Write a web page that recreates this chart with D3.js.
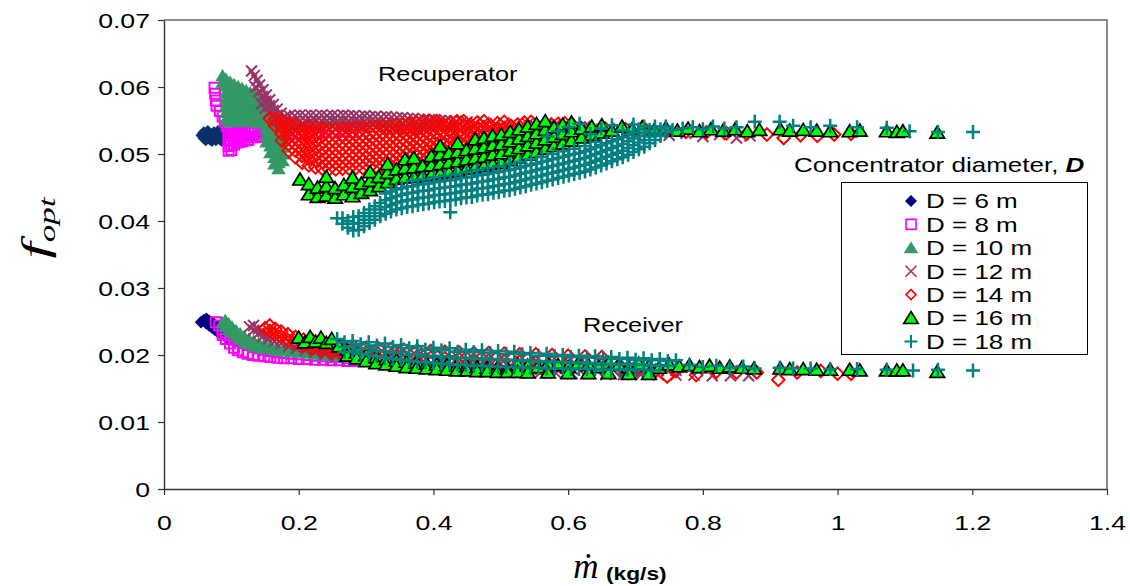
<!DOCTYPE html>
<html>
<head>
<meta charset="utf-8">
<script src="https://cdn.jsdelivr.net/npm/d3@7/dist/d3.min.js"></script>
<style>
  body { margin: 0; background: #fff; }
  svg { display: block; }
</style>
</head>
<body>
<svg id="chart" width="1130" height="586"></svg>
<script>
// Optimal duct-size ratio f_opt against mass flow rate, for dish concentrators of diameter D.
// Each row: [mass flow rate (kg/s), f_opt, f_opt, ...] — several optima share one flow rate.

const diameters = [6, 8, 10, 12, 14, 16, 18];
const xTicks = [0, 0.2, 0.4, 0.6, 0.8, 1, 1.2, 1.4];
const yTicks = [0, 0.01, 0.02, 0.03, 0.04, 0.05, 0.06, 0.07];

// ---- D = 6 m ----
const recup6 = [
  [0.056,0.0528],[0.059,0.0524,0.0532],[0.062,0.0521,0.0529],[0.065,0.0526,0.0534],[0.068,0.0522,0.0530],
  [0.071,0.0520,0.0527],[0.074,0.0524,0.0532],[0.077,0.0521,0.0529],[0.080,0.0526,0.0534],[0.083,0.0522,0.0531],
  [0.086,0.0520,0.0527],[0.089,0.0525,0.0531],[0.093,0.0527],[0.098,0.0526],[0.104,0.0527],[0.111,0.0526],
  [0.119,0.0527],[0.128,0.0526],[0.137,0.0527]
];
const recv6 = [
  [0.055,0.0249],[0.059,0.0252],[0.063,0.0254,0.0247],[0.067,0.0251,0.0244],[0.071,0.0249,0.0241],
  [0.075,0.0246,0.0238],[0.079,0.0243,0.0235],[0.084,0.0240,0.0232],[0.089,0.0236,0.0229],[0.094,0.0233,0.0226],
  [0.100,0.0229,0.0223],[0.106,0.0226,0.0220],[0.113,0.0222,0.0218],[0.120,0.0220,0.0216],[0.128,0.0217,0.0214],
  [0.136,0.0215,0.0212],[0.142,0.0213]
];

// ---- D = 8 m ----
const recup8 = [
  [0.075,0.0599],[0.076,0.0590],[0.077,0.0580],[0.078,0.0572],[0.083,0.0564],[0.087,0.0556],[0.090,0.0549],
  [0.093,0.0542],[0.096,0.0536,0.0528,0.0520,0.0512,0.0505],[0.100,0.0538,0.0530,0.0522,0.0514,0.0506],
  [0.104,0.0538,0.0530,0.0522,0.0514],[0.108,0.0538,0.0531,0.0524,0.0517],[0.112,0.0538,0.0531,0.0524,0.0518],
  [0.116,0.0538,0.0531,0.0525,0.0519],[0.120,0.0538,0.0532,0.0526,0.0520],[0.125,0.0538,0.0532,0.0526,0.0521],
  [0.130,0.0537,0.0531,0.0525],[0.135,0.0537,0.0531,0.0525],[0.140,0.0537,0.0531,0.0526],[0.145,0.0536,0.0530,0.0526],
  [0.150,0.0536,0.0530],[0.156,0.0535,0.0529],[0.163,0.0535,0.0529],[0.170,0.0534,0.0529],[0.178,0.0531],
  [0.186,0.0529],[0.195,0.0532],[0.205,0.0530],[0.216,0.0533],[0.228,0.0531],[0.240,0.0534],[0.253,0.0532],
  [0.266,0.0534],[0.280,0.0533]
];
const recv8 = [
  [0.077,0.0249],[0.082,0.0244],[0.087,0.0238,0.0230],[0.092,0.0234,0.0224],[0.098,0.0229,0.0217],
  [0.104,0.0225,0.0211],[0.110,0.0221,0.0207],[0.117,0.0218,0.0204],[0.124,0.0215,0.0202],[0.132,0.0212,0.0200],
  [0.140,0.0210,0.0199],[0.149,0.0208,0.0198],[0.158,0.0206,0.0197],[0.168,0.0204,0.0196],[0.178,0.0203,0.0195],
  [0.189,0.0202,0.0195],[0.200,0.0201,0.0194],[0.212,0.0200,0.0194],[0.224,0.0199,0.0193],[0.236,0.0198,0.0193],
  [0.248,0.0197,0.0192],[0.260,0.0197,0.0192],[0.272,0.0196,0.0191],[0.284,0.0196,0.0191]
];

// ---- D = 10 m ----
const recup10 = [
  [0.087,0.0617,0.0607],[0.092,0.0612,0.0602,0.0592,0.0582,0.0572,0.0562,0.0552],
  [0.098,0.0608,0.0598,0.0588,0.0578,0.0568,0.0558,0.0548],[0.104,0.0604,0.0594,0.0584,0.0574,0.0564,0.0554],
  [0.110,0.0601,0.0591,0.0581,0.0571,0.0561,0.0551],[0.116,0.0598,0.0588,0.0578,0.0568,0.0558,0.0548],
  [0.122,0.0595,0.0585,0.0575,0.0565,0.0555],[0.128,0.0592,0.0582,0.0572,0.0562,0.0552],
  [0.134,0.0589,0.0579,0.0569,0.0559,0.0549],[0.140,0.0586,0.0576,0.0566,0.0556,0.0546],
  [0.146,0.0582,0.0572,0.0562,0.0552],[0.152,0.0578,0.0568,0.0558,0.0548,0.0538,0.0528,0.0518],
  [0.158,0.0572,0.0562,0.0552,0.0542,0.0532,0.0522,0.0512,0.0502],
  [0.164,0.0565,0.0555,0.0545,0.0535,0.0525,0.0515,0.0505,0.0495,0.0485],
  [0.170,0.0557,0.0547,0.0537,0.0527,0.0517,0.0507,0.0497,0.0487,0.0478],
  [0.176,0.0550,0.0540,0.0530,0.0520,0.0510,0.0500,0.0490],[0.183,0.0546,0.0536],[0.191,0.0542],[0.200,0.0544],
  [0.212,0.0546],[0.225,0.0547],[0.238,0.0548],[0.252,0.0549],[0.266,0.0550],[0.280,0.0549],[0.294,0.0549],
  [0.308,0.0548],[0.322,0.0548],[0.336,0.0547],[0.350,0.0546],[0.366,0.0545],[0.382,0.0544],[0.398,0.0543],
  [0.414,0.0543],[0.430,0.0542]
];
const recv10 = [
  [0.087,0.0248],[0.091,0.0243,0.0252],[0.096,0.0238,0.0247],[0.101,0.0234,0.0242],[0.107,0.0229,0.0237],
  [0.113,0.0224,0.0232],[0.119,0.0220,0.0228],[0.126,0.0217,0.0224],[0.133,0.0214,0.0221],[0.141,0.0212,0.0218],
  [0.149,0.0210,0.0216],[0.158,0.0209,0.0214],[0.168,0.0207,0.0212],[0.178,0.0206,0.0210],[0.189,0.0205,0.0209],
  [0.200,0.0204,0.0208],[0.212,0.0203,0.0207],[0.224,0.0201,0.0206],[0.237,0.0200,0.0205],[0.250,0.0199,0.0204],
  [0.263,0.0198,0.0203],[0.276,0.0197,0.0202],[0.290,0.0196,0.0201],[0.304,0.0194,0.0200],[0.318,0.0192,0.0198],
  [0.332,0.0190,0.0196],[0.346,0.0188,0.0194],[0.360,0.0186,0.0192],[0.374,0.0185,0.0190],[0.388,0.0183,0.0188],
  [0.402,0.0182,0.0187],[0.416,0.0180,0.0185],[0.430,0.0178,0.0183],[0.444,0.0177]
];

// ---- D = 12 m ----
const recup12 = [
  [0.130,0.0624],[0.134,0.0617],[0.138,0.0610],[0.142,0.0603],[0.147,0.0596],[0.152,0.0588],[0.157,0.0581],
  [0.162,0.0574],[0.168,0.0567],[0.174,0.0561],[0.180,0.0556],
  [0.136,0.0600],[0.141,0.0593],[0.146,0.0586],[0.151,0.0579],[0.156,0.0572],[0.162,0.0565],[0.168,0.0558],
  [0.174,0.0552],[0.180,0.0547],
  [0.145,0.0575],[0.150,0.0568],[0.156,0.0562],[0.162,0.0556],[0.168,0.0549],[0.174,0.0544],
  [0.186,0.0557,0.0549,0.0541],[0.194,0.0557,0.0549,0.0541],[0.202,0.0558,0.0550,0.0542],[0.210,0.0557,0.0549,0.0541],
  [0.218,0.0558,0.0550,0.0542],[0.226,0.0557,0.0549,0.0541],[0.234,0.0558,0.0550,0.0542],[0.242,0.0557,0.0549,0.0541],
  [0.250,0.0558,0.0550,0.0542],[0.258,0.0557,0.0549,0.0541],[0.266,0.0558,0.0550,0.0542],[0.274,0.0557,0.0549,0.0541],
  [0.282,0.0557,0.0549,0.0541],[0.290,0.0556,0.0548,0.0540],[0.298,0.0557,0.0549,0.0541],[0.306,0.0556,0.0548,0.0540],
  [0.314,0.0556,0.0548,0.0540],[0.322,0.0555,0.0547,0.0539],[0.330,0.0556,0.0548,0.0540],[0.338,0.0555,0.0547,0.0539],
  [0.346,0.0554,0.0546,0.0538],[0.354,0.0554,0.0546,0.0538],[0.362,0.0553,0.0545,0.0537],[0.370,0.0553,0.0545,0.0537],
  [0.378,0.0552,0.0544,0.0536],[0.386,0.0552,0.0544,0.0536],[0.394,0.0551,0.0543],[0.402,0.0551,0.0543],
  [0.410,0.0550,0.0542],[0.418,0.0550,0.0542],[0.426,0.0549,0.0541],[0.434,0.0549,0.0541],[0.442,0.0548,0.0540],
  [0.450,0.0548],[0.460,0.0544],[0.475,0.0547],[0.490,0.0543],[0.505,0.0546],[0.520,0.0542],[0.540,0.0545],
  [0.560,0.0541],[0.580,0.0543],[0.600,0.0539],[0.625,0.0541],[0.650,0.0537],[0.675,0.0538],[0.700,0.0531],
  [0.725,0.0534],[0.750,0.0528],[0.775,0.0531],[0.800,0.0526],[0.825,0.0529],[0.850,0.0524],[0.870,0.0527]
];
const recv12 = [
  [0.127,0.0242],[0.133,0.0237,0.0244],[0.140,0.0232,0.0239],[0.147,0.0228,0.0235],[0.155,0.0224,0.0231],
  [0.164,0.0220,0.0227],[0.174,0.0217,0.0223],[0.185,0.0213,0.0219],[0.197,0.0210,0.0216],[0.210,0.0207,0.0213],
  [0.224,0.0204,0.0210],[0.239,0.0201,0.0207],[0.255,0.0198,0.0204],[0.272,0.0196,0.0201],[0.290,0.0193,0.0199],
  [0.308,0.0191,0.0197],[0.327,0.0189,0.0195],[0.346,0.0187,0.0193],[0.366,0.0185,0.0191],[0.386,0.0183,0.0189],
  [0.406,0.0182,0.0188],[0.426,0.0180,0.0186],[0.447,0.0179,0.0185],[0.468,0.0177,0.0184],[0.490,0.0176,0.0183],
  [0.512,0.0175,0.0182],[0.535,0.0174,0.0181],[0.558,0.0173,0.0180],[0.582,0.0173,0.0180],[0.606,0.0172,0.0179],
  [0.631,0.0172,0.0179],[0.656,0.0171,0.0178],[0.682,0.0171,0.0178],[0.708,0.0171,0.0178],[0.734,0.0170,0.0177],
  [0.760,0.0170,0.0177],[0.787,0.0170],[0.814,0.0169],[0.841,0.0169],[0.868,0.0169]
];

// ---- D = 14 m ----
const recup14 = [
  [0.157,0.0553],[0.165,0.0542,0.0552],[0.175,0.0520,0.0530,0.0540,0.0550],[0.185,0.0505,0.0515,0.0525,0.0535,0.0545],
  [0.195,0.0495,0.0505,0.0515,0.0525,0.0535,0.0544],[0.205,0.0487,0.0497,0.0507,0.0517,0.0527,0.0537],
  [0.215,0.0483,0.0493,0.0503,0.0513,0.0523,0.0533,0.0541],[0.225,0.0480,0.0490,0.0500,0.0510,0.0520,0.0530,0.0540],
  [0.235,0.0478,0.0488,0.0498,0.0508,0.0518,0.0528,0.0538],[0.245,0.0477,0.0487,0.0497,0.0507,0.0517,0.0527,0.0537],
  [0.255,0.0477,0.0487,0.0497,0.0507,0.0517,0.0527,0.0537],[0.265,0.0478,0.0488,0.0498,0.0508,0.0518,0.0528,0.0538],
  [0.275,0.0478,0.0488,0.0498,0.0508,0.0518,0.0528,0.0538],[0.285,0.0479,0.0489,0.0499,0.0509,0.0519,0.0529,0.0539],
  [0.295,0.0479,0.0489,0.0499,0.0509,0.0519,0.0529,0.0539],[0.305,0.0480,0.0490,0.0500,0.0510,0.0520,0.0530,0.0540],
  [0.315,0.0481,0.0491,0.0501,0.0511,0.0521,0.0531,0.0541],[0.325,0.0482,0.0492,0.0502,0.0512,0.0522,0.0532,0.0542],
  [0.335,0.0482,0.0492,0.0502,0.0512,0.0522,0.0532,0.0542],[0.345,0.0483,0.0493,0.0503,0.0513,0.0523,0.0533,0.0543],
  [0.355,0.0484,0.0494,0.0504,0.0514,0.0524,0.0534,0.0544],[0.365,0.0485,0.0495,0.0505,0.0515,0.0525,0.0535,0.0545],
  [0.375,0.0487,0.0497,0.0507,0.0517,0.0527,0.0537,0.0547],[0.385,0.0488,0.0498,0.0508,0.0518,0.0528,0.0538,0.0548],
  [0.395,0.0490,0.0500,0.0510,0.0520,0.0530,0.0540,0.0549],[0.405,0.0492,0.0502,0.0512,0.0522,0.0532,0.0542,0.0549],
  [0.415,0.0494,0.0504,0.0514,0.0524,0.0534,0.0544],[0.425,0.0496,0.0506,0.0516,0.0526,0.0536,0.0546],
  [0.435,0.0499,0.0509,0.0519,0.0529,0.0539,0.0549],[0.445,0.0501,0.0511,0.0521,0.0531,0.0541,0.0549],
  [0.455,0.0504,0.0514,0.0524,0.0534,0.0544],[0.465,0.0507,0.0517,0.0527,0.0537,0.0547],
  [0.475,0.0510,0.0520,0.0530,0.0540,0.0549],[0.485,0.0513,0.0523,0.0533,0.0543],[0.495,0.0516,0.0526,0.0536,0.0546],
  [0.505,0.0519,0.0529,0.0539,0.0548],[0.515,0.0522,0.0532,0.0542],[0.525,0.0524,0.0534,0.0544],
  [0.535,0.0527,0.0537,0.0547],[0.545,0.0529,0.0539,0.0548],[0.555,0.0531,0.0541],[0.565,0.0532,0.0542],
  [0.575,0.0534,0.0544],[0.585,0.0535,0.0545],[0.595,0.0536,0.0546],[0.605,0.0537,0.0545],[0.615,0.0537],
  [0.625,0.0538],[0.655,0.0538],[0.685,0.0537],[0.715,0.0536],[0.745,0.0534],[0.775,0.0533],[0.805,0.0532],
  [0.835,0.0531],[0.865,0.0530],[0.895,0.0529],[0.920,0.0524],[0.945,0.0528],[0.970,0.0527],[0.995,0.0529],
  [1.020,0.0530]
];
const recv14 = [
  [0.150,0.0240],[0.157,0.0236,0.0244],[0.165,0.0231,0.0239],[0.174,0.0227,0.0235],[0.184,0.0222,0.0231],
  [0.195,0.0218,0.0227],[0.207,0.0214,0.0223],[0.220,0.0210,0.0216,0.0222],[0.234,0.0207,0.0213,0.0219],
  [0.249,0.0204,0.0210,0.0216],[0.265,0.0201,0.0208,0.0214],[0.282,0.0199,0.0206,0.0212],[0.300,0.0197,0.0204,0.0211],
  [0.318,0.0195,0.0202,0.0210],[0.337,0.0193,0.0200,0.0209],[0.356,0.0191,0.0199,0.0208],[0.376,0.0190,0.0198,0.0207],
  [0.396,0.0188,0.0196,0.0206],[0.417,0.0187,0.0195,0.0205],[0.438,0.0186,0.0194,0.0204],[0.460,0.0185,0.0193,0.0203],
  [0.482,0.0184,0.0192,0.0203],[0.505,0.0183,0.0191,0.0202],[0.528,0.0182,0.0190,0.0201],[0.552,0.0181,0.0189,0.0201],
  [0.576,0.0180,0.0189,0.0200],[0.600,0.0180,0.0188,0.0199],[0.625,0.0179,0.0187,0.0198],[0.650,0.0179,0.0186,0.0197],
  [0.676,0.0178,0.0185],[0.702,0.0178,0.0184],[0.730,0.0177],[0.747,0.0168],[0.760,0.0176],[0.790,0.0170],
  [0.820,0.0175],[0.850,0.0174],[0.880,0.0174],[0.912,0.0163],[0.940,0.0174],[0.975,0.0176],[1.000,0.0172],
  [1.020,0.0172]
];

// ---- D = 16 m ----
const recup16 = [
  [0.202,0.0462],[0.215,0.0440,0.0455],[0.228,0.0436,0.0450],[0.241,0.0438,0.0452,0.0466],[0.254,0.0435,0.0449],
  [0.267,0.0440,0.0454],[0.280,0.0437,0.0451,0.0465],[0.293,0.0442,0.0456],[0.306,0.0446,0.0460,0.0473],
  [0.319,0.0452,0.0466],[0.332,0.0458,0.0472,0.0485],[0.345,0.0463,0.0477],[0.358,0.0465,0.0479,0.0492],
  [0.371,0.0466,0.0480,0.0494],[0.384,0.0468,0.0482],[0.397,0.0469,0.0483,0.0497],[0.410,0.0471,0.0485,0.0499,0.0512],
  [0.423,0.0473,0.0487,0.0501],[0.436,0.0475,0.0489,0.0503,0.0516],[0.449,0.0478,0.0492,0.0506],
  [0.462,0.0480,0.0494,0.0508,0.0522],[0.475,0.0482,0.0496,0.0510,0.0524],[0.488,0.0485,0.0499,0.0513,0.0527],
  [0.501,0.0487,0.0501,0.0515,0.0529],[0.514,0.0491,0.0505,0.0519,0.0533],[0.527,0.0495,0.0509,0.0523,0.0537],
  [0.540,0.0499,0.0513,0.0527,0.0541],[0.553,0.0503,0.0517,0.0531,0.0545],[0.566,0.0508,0.0522,0.0536,0.0549],
  [0.579,0.0512,0.0526,0.0540],[0.592,0.0516,0.0530,0.0544],[0.605,0.0520,0.0534,0.0547],[0.620,0.0525,0.0538],
  [0.635,0.0529,0.0541],[0.650,0.0532,0.0543],[0.665,0.0535],[0.680,0.0541],[0.695,0.0537],[0.710,0.0540],
  [0.728,0.0536],[0.745,0.0539],[0.762,0.0535],[0.778,0.0538],[0.795,0.0534],[0.812,0.0537],[0.830,0.0535],
  [0.848,0.0537],[0.866,0.0534],[0.884,0.0536],[0.915,0.0537],[0.929,0.0535],[0.949,0.0536],[0.969,0.0535],
  [0.989,0.0534],[1.018,0.0534],[1.033,0.0535],[1.073,0.0534],[1.088,0.0533],[1.097,0.0534],[1.148,0.0532]
];
const recv16 = [
  [0.200,0.0226],[0.209,0.0219],[0.217,0.0227],[0.225,0.0220],[0.233,0.0226],[0.241,0.0218],[0.249,0.0224],
  [0.260,0.0213],[0.272,0.0208,0.0199],[0.286,0.0204,0.0195],[0.300,0.0200,0.0191],[0.315,0.0197,0.0188],
  [0.330,0.0194,0.0186],[0.345,0.0192,0.0184],[0.360,0.0190,0.0182],[0.375,0.0189,0.0181],[0.390,0.0187,0.0180],
  [0.405,0.0186,0.0179],[0.420,0.0185,0.0178],[0.435,0.0184,0.0177],[0.450,0.0183,0.0177],[0.465,0.0182,0.0176],
  [0.480,0.0181,0.0176],[0.495,0.0181,0.0175],[0.510,0.0180,0.0175],[0.525,0.0186,0.0175],[0.540,0.0184,0.0174],
  [0.555,0.0182],[0.570,0.0187,0.0174],[0.585,0.0185],[0.600,0.0182,0.0173],[0.615,0.0188],[0.630,0.0185,0.0173],
  [0.645,0.0182],[0.660,0.0188,0.0173],[0.675,0.0185],[0.690,0.0182,0.0172],[0.705,0.0187],[0.720,0.0184,0.0172],
  [0.735,0.0181],[0.750,0.0186],[0.765,0.0183],[0.780,0.0185],[0.795,0.0182],[0.810,0.0184],[0.825,0.0181],
  [0.840,0.0183],[0.858,0.0181],[0.876,0.0180],[0.915,0.0180],[0.929,0.0179],[0.949,0.0179],[0.969,0.0178],
  [0.989,0.0178],[1.018,0.0178],[1.033,0.0177],[1.073,0.0177],[1.088,0.0177],[1.097,0.0177],[1.148,0.0175]
];

// ---- D = 18 m ----
const recup18 = [
  [0.257,0.0404],[0.265,0.0396,0.0404],[0.273,0.0390,0.0400],[0.281,0.0386,0.0396,0.0406],[0.289,0.0387,0.0397,0.0407],
  [0.297,0.0392,0.0402,0.0412],[0.305,0.0397,0.0407,0.0417],[0.313,0.0402,0.0412,0.0422],[0.321,0.0407,0.0417,0.0427],
  [0.329,0.0411,0.0421,0.0431,0.0441],[0.337,0.0414,0.0424,0.0434,0.0444],[0.345,0.0417,0.0427,0.0437,0.0447],
  [0.353,0.0419,0.0429,0.0439,0.0449],[0.361,0.0421,0.0431,0.0441,0.0451],[0.369,0.0422,0.0432,0.0442,0.0452,0.0460],
  [0.377,0.0424,0.0434,0.0444,0.0454],[0.385,0.0425,0.0435,0.0445,0.0455,0.0462],[0.393,0.0426,0.0436,0.0446,0.0456],
  [0.401,0.0428,0.0438,0.0448,0.0458,0.0465],[0.409,0.0429,0.0439,0.0449,0.0459],[0.417,0.0430,0.0440,0.0450,0.0460,0.0467],
  [0.425,0.0413,0.0431,0.0441,0.0451,0.0461],[0.433,0.0432,0.0442,0.0452,0.0462,0.0470],[0.441,0.0434,0.0444,0.0454,0.0464],
  [0.449,0.0435,0.0445,0.0455,0.0465,0.0473],[0.457,0.0436,0.0446,0.0456,0.0466],[0.465,0.0438,0.0448,0.0458,0.0468,0.0476],
  [0.473,0.0439,0.0449,0.0459,0.0469],[0.481,0.0440,0.0450,0.0460,0.0470,0.0479],[0.489,0.0442,0.0452,0.0462,0.0472],
  [0.497,0.0443,0.0453,0.0463,0.0473,0.0482],[0.505,0.0445,0.0455,0.0465,0.0475],[0.513,0.0446,0.0456,0.0466,0.0476,0.0485],
  [0.521,0.0448,0.0458,0.0468,0.0478],[0.529,0.0450,0.0460,0.0470,0.0480,0.0488],[0.537,0.0452,0.0462,0.0472,0.0482],
  [0.545,0.0454,0.0464,0.0474,0.0484,0.0492],[0.553,0.0456,0.0466,0.0476,0.0486],[0.561,0.0458,0.0468,0.0478,0.0488,0.0496],
  [0.569,0.0460,0.0470,0.0480,0.0490,0.0526],[0.577,0.0462,0.0472,0.0482,0.0492,0.0500],[0.585,0.0464,0.0474,0.0484,0.0494,0.0534],
  [0.593,0.0466,0.0476,0.0486,0.0496,0.0504],[0.601,0.0468,0.0478,0.0488,0.0498,0.0540],[0.609,0.0470,0.0480,0.0490,0.0500,0.0508],
  [0.617,0.0472,0.0482,0.0492,0.0502,0.0545],[0.625,0.0474,0.0484,0.0494,0.0504,0.0512],[0.633,0.0477,0.0487,0.0497,0.0507,0.0530],
  [0.641,0.0480,0.0490,0.0500,0.0510,0.0518],[0.649,0.0483,0.0493,0.0503,0.0513,0.0538],[0.657,0.0486,0.0496,0.0506,0.0516],
  [0.665,0.0489,0.0499,0.0509,0.0519,0.0543],[0.673,0.0492,0.0502,0.0512,0.0522],[0.681,0.0495,0.0505,0.0515,0.0525,0.0535],
  [0.689,0.0499,0.0509,0.0519,0.0529],[0.697,0.0503,0.0513,0.0523,0.0533,0.0544],[0.705,0.0507,0.0517,0.0527,0.0537],
  [0.713,0.0511,0.0521,0.0531,0.0541],[0.721,0.0516,0.0526,0.0536],[0.729,0.0521,0.0531,0.0541],[0.737,0.0527,0.0537],
  [0.745,0.0532,0.0541],[0.755,0.0536],[0.770,0.0538],[0.785,0.0540],[0.800,0.0537],[0.815,0.0541],[0.832,0.0538],
  [0.850,0.0540],[0.877,0.0548],[0.914,0.0548],[0.934,0.0542],[0.960,0.0540],[0.989,0.0542],[1.029,0.0540],
  [1.073,0.0539],[1.107,0.0534],[1.149,0.0533],[1.201,0.0533]
];
const recv18 = [
  [0.257,0.0224],[0.268,0.0219,0.0212,0.0205],[0.280,0.0221,0.0213,0.0204],[0.292,0.0216,0.0209,0.0202],
  [0.304,0.0219,0.0210,0.0200],[0.316,0.0214,0.0206,0.0198],[0.328,0.0217,0.0206,0.0196],[0.340,0.0212,0.0203,0.0194],
  [0.352,0.0215,0.0204,0.0193],[0.364,0.0210,0.0200,0.0191],[0.376,0.0213,0.0201,0.0190],[0.388,0.0208,0.0198,0.0189],
  [0.400,0.0211,0.0199,0.0188],[0.412,0.0207,0.0197,0.0187],[0.424,0.0210,0.0198,0.0186],[0.436,0.0205,0.0195,0.0186],
  [0.448,0.0208,0.0196,0.0185],[0.460,0.0204,0.0194,0.0184],[0.472,0.0207,0.0195,0.0184],[0.484,0.0203,0.0193,0.0183],
  [0.496,0.0206,0.0194,0.0183],[0.508,0.0202,0.0192,0.0182],[0.520,0.0205,0.0193,0.0182],[0.532,0.0201,0.0191,0.0181],
  [0.544,0.0203,0.0192,0.0181],[0.556,0.0199,0.0190,0.0181],[0.568,0.0202,0.0191,0.0180],[0.580,0.0198,0.0189,0.0180],
  [0.592,0.0200,0.0190,0.0180],[0.604,0.0197,0.0188,0.0179],[0.616,0.0199,0.0189,0.0179],[0.628,0.0196,0.0187,0.0179],
  [0.640,0.0198,0.0188,0.0179],[0.652,0.0195,0.0186,0.0178],[0.664,0.0197,0.0187,0.0178],[0.676,0.0194,0.0186,0.0178],
  [0.688,0.0196,0.0187,0.0178],[0.700,0.0193,0.0185,0.0178],[0.712,0.0195,0.0186,0.0178],[0.724,0.0192,0.0184,0.0177],
  [0.736,0.0194,0.0185],[0.748,0.0191,0.0184],[0.760,0.0192],[0.780,0.0185],[0.800,0.0182],[0.820,0.0184],
  [0.840,0.0181],[0.860,0.0183],[0.877,0.0180],[0.914,0.0181],[0.934,0.0180],[0.960,0.0180],[0.989,0.0179],
  [1.029,0.0179],[1.073,0.0178],[1.112,0.0177],[1.149,0.0178],[1.201,0.0177]
];

const recupSets = [recup6, recup8, recup10, recup12, recup14, recup16, recup18];
const recvSets = [recv6, recv8, recv10, recv12, recv14, recv16, recv18];

// ---- marker styles, one per diameter ----
const SX = 1.3; // horizontal stretch applied to the lettering
const markers = {
  diamond: r => `M0,${-r}L${r},0L0,${r}L${-r},0Z`,
  square: r => `M${-r},${-r}H${r}V${r}H${-r}Z`,
  triangle: r => `M0,${-r}L${r + 0.8},${r * 0.85}L${-r - 0.8},${r * 0.85}Z`,
  cross: r => `M${-r},${-r}L${r},${r}M${-r},${r}L${r},${-r}`,
  plus: r => `M${-r},0H${r}M0,${-r}V${r}`
};
const styles = [
  { shape: "diamond",  r: 6.3, fill: "#000080", stroke: "none",    sw: 0, recupFill: "#0a3068" },
  { shape: "square",   r: 5,   fill: "none",    stroke: "#ff00ff", sw: 2 },
  { shape: "triangle", r: 6.5, fill: "#339966", stroke: "none",    sw: 0 },
  { shape: "cross",    r: 5.5, fill: "none",    stroke: "#993366", sw: 2 },
  { shape: "diamond",  r: 6.3, fill: "none",    stroke: "#ff0000", sw: 2 },
  { shape: "triangle", r: 6.5, fill: "#00ff00", stroke: "#000000", sw: 1.7 },
  { shape: "plus",     r: 7,   fill: "none",    stroke: "#008080", sw: 2.5 }
];
const legendStyle = [
  { r: 6,   sw: 0 }, { r: 5, sw: 1.6 }, { r: 6.5, sw: 0 }, { r: 5.5, sw: 1.6 },
  { r: 5,   sw: 1.6 }, { r: 6.5, sw: 1.6 }, { r: 6.5, sw: 2 }
];

const FONT = "'Liberation Sans', Arial, Helvetica, sans-serif";
const SERIF = "'Liberation Serif', 'Times New Roman', 'DejaVu Serif', serif";

const svg = d3.select("#chart");
svg.append("rect").attr("width", 1130).attr("height", 586).attr("fill", "#fff");

const x = d3.scaleLinear().domain([0, 1.4]).range([164, 1107]);
const y = d3.scaleLinear().domain([0, 0.07]).range([489, 20]);

// plot frame (top and right edges)
svg.append("path")
  .attr("d", `M${x(0)},${y(0.07)}H${x(1.4)}V${y(0)}`)
  .attr("fill", "none").attr("stroke", "#8c8c8c").attr("stroke-width", 2);

// points
const flatten = rows => rows.flatMap(([m, ...fs]) => fs.map(f => ({ m, f })));
const marks = svg.append("g");
diameters.forEach((d, i) => {
  const st = styles[i];
  [[recupSets[i], st.recupFill || st.fill], [recvSets[i], st.fill]].forEach(([rows, fill]) => {
    marks.append("g").selectAll("path")
      .data(flatten(rows))
      .join("path")
      .attr("transform", p => `translate(${x(p.m)},${y(p.f)})`)
      .attr("d", markers[st.shape](st.r))
      .attr("fill", fill)
      .attr("stroke", st.stroke)
      .attr("stroke-width", st.sw)
      .attr("stroke-linejoin", "miter");
  });
});

// axes
const yAxis = svg.append("g").attr("transform", `translate(${x(0)},0)`)
  .call(d3.axisLeft(y).tickValues(yTicks).tickSize(6).tickSizeOuter(0).tickFormat(d3.format("~g")));
yAxis.selectAll("text")
  .attr("font-family", FONT).attr("font-size", 20.5).attr("fill", "#000")
  .attr("x", -14 / SX).attr("dy", "0.36em")
  .attr("transform", `scale(${SX},1)`);

const xAxis = svg.append("g").attr("transform", `translate(0,${y(0)})`)
  .call(d3.axisBottom(x).tickValues(xTicks).tickSize(6).tickSizeOuter(0).tickFormat(d3.format("~g")));
xAxis.selectAll("text")
  .attr("font-family", FONT).attr("font-size", 20.5).attr("fill", "#000")
  .attr("y", 41).attr("dy", "0")
  .attr("transform", `scale(${SX},1)`);

[yAxis, xAxis].forEach(a => {
  a.select(".domain").attr("stroke", "#333").attr("stroke-width", 1.4);
  a.selectAll(".tick line").attr("stroke", "#333").attr("stroke-width", 1.2);
});

// stretched text helper
function label(x0, y0, anchor, size, parts) {
  const t = svg.append("text")
    .attr("transform", `translate(${x0},${y0}) scale(${SX},1)`)
    .attr("text-anchor", anchor)
    .attr("font-family", FONT).attr("font-size", size).attr("fill", "#000");
  parts.forEach(p => {
    const s = t.append("tspan").text(p.text);
    if (p.weight) s.attr("font-weight", p.weight);
    if (p.style) s.attr("font-style", p.style);
  });
  return t;
}

label(378, 81, "start", 19.5, [{ text: "Recuperator" }]);
label(583, 332, "start", 19.5, [{ text: "Receiver" }]);
label(794, 172, "start", 20, [{ text: "Concentrator diameter, " }, { text: "D", weight: "bold", style: "italic" }]);

// legend
const legend = svg.append("g");
legend.append("rect").attr("x", 841.5).attr("y", 182.5).attr("width", 246).attr("height", 172)
  .attr("fill", "#fff").attr("stroke", "#000").attr("stroke-width", 1);
diameters.forEach((d, i) => {
  const st = styles[i];
  const cy = 201 + i * 23.4;
  legend.append("path")
    .attr("transform", `translate(911,${cy})`)
    .attr("d", markers[st.shape](legendStyle[i].r))
    .attr("fill", st.fill).attr("stroke", st.stroke).attr("stroke-width", legendStyle[i].sw);
  label(926, cy + 7.3, "start", 20, [{ text: `D = ${d} m` }]);
});

// axis titles
svg.append("text")
  .attr("x", 586).attr("y", 578)
  .attr("text-anchor", "middle")
  .attr("font-family", SERIF).attr("font-style", "italic").attr("font-size", 35)
  .text("\u1E41");
label(606, 580, "start", 17.5, [{ text: "(kg/s)", weight: "bold" }]);

const yt = svg.append("text")
  .attr("transform", "translate(48,228) rotate(-90) scale(1.4,0.9)")
  .attr("text-anchor", "middle")
  .attr("font-family", SERIF).attr("font-style", "italic");
yt.append("tspan").attr("font-size", 42).text("f");
yt.append("tspan").attr("font-size", 25).attr("dy", 8).text("opt");
</script>
</body>
</html>
